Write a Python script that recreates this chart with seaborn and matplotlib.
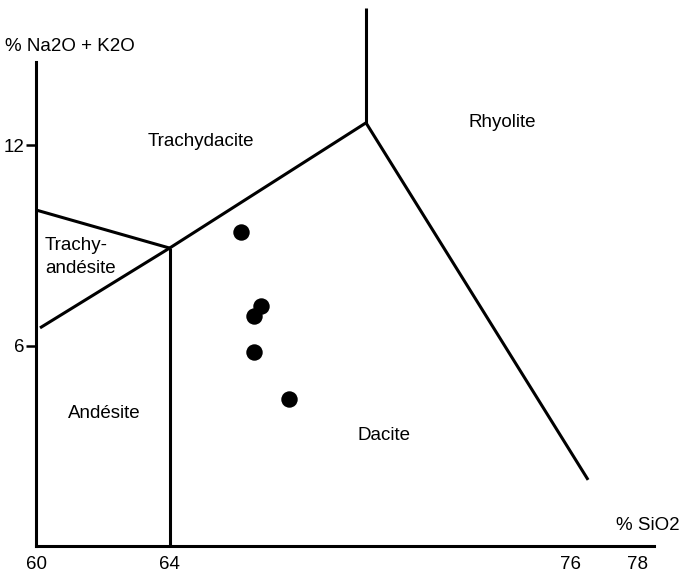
import matplotlib
matplotlib.use("Agg")
import matplotlib.pyplot as plt
import seaborn as sns
import pandas as pd

# ---- data ----
sample_sio2 = [66.13, 66.73, 66.54, 66.54, 67.58]
sample_alk = [9.39, 7.19, 6.90, 5.80, 4.40]

# boundary lines (SiO2, Na2O+K2O)
b_trachyandesite_top_x = [60.0, 64.0]
b_trachyandesite_top_y = [10.06, 8.92]
b_diagonal_x = [60.12, 64.0, 69.88]
b_diagonal_y = [6.53, 8.92, 12.67]
b_andesite_dacite_x = [64.0, 64.0]
b_andesite_dacite_y = [8.92, 0.0]
b_rhyo_top_x = [69.88, 69.88]
b_rhyo_top_y = [12.67, 16.1]
b_rhyo_dacite_x = [69.88, 76.53]
b_rhyo_dacite_y = [12.67, 1.98]

x_ticks = [60, 64, 76, 78]
y_ticks = [6, 12]

field_names = ["Trachydacite", "Rhyolite", "Trachy-\nandésite", "Andésite", "Dacite"]
field_x = [64.94, 73.95, 60.27, 62.04, 70.42]
field_y = [12.10, 12.69, 8.66, 3.98, 3.32]

sns.set_theme(style="white")
plt.rcParams["font.family"] = ["Liberation Sans", "DejaVu Sans"]
plt.rcParams["text.color"] = "black"

fig = plt.figure(figsize=(6.88, 5.75), dpi=100)
ax = fig.add_axes([0, 0, 1, 1])
ax.set_xlim(58.922, 79.521)
ax.set_ylim(-0.868, 16.347)

lw = 2.2
for xs, ys in [(b_trachyandesite_top_x, b_trachyandesite_top_y),
               (b_diagonal_x, b_diagonal_y),
               (b_andesite_dacite_x, b_andesite_dacite_y),
               (b_rhyo_top_x, b_rhyo_top_y),
               (b_rhyo_dacite_x, b_rhyo_dacite_y)]:
    ax.plot(xs, ys, color="black", lw=lw, solid_capstyle="butt")

df = pd.DataFrame({"SiO2": sample_sio2, "alk": sample_alk})
sns.scatterplot(data=df, x="SiO2", y="alk", ax=ax, color="black", s=140,
                edgecolor="black", linewidth=0, zorder=5)

fs = 13.5
for name, fx, fy in zip(field_names, field_x, field_y):
    ha = "left" if name.startswith("Trachy-") else "center"
    ax.text(fx, fy, name, ha=ha, va="center", fontsize=fs, color="black",
            linespacing=1.5)

# axes
for s in ["top", "right"]:
    ax.spines[s].set_visible(False)
ax.spines["left"].set_position(("data", 60))
ax.spines["bottom"].set_position(("data", 0))
ax.spines["left"].set_bounds(0, 14.5)
ax.spines["bottom"].set_bounds(60, 78.5)
for s in ["left", "bottom"]:
    ax.spines[s].set_linewidth(lw)
    ax.spines[s].set_color("black")

ax.set_xticks(x_ticks)
ax.set_xticklabels([str(v) for v in x_ticks])
ax.set_yticks(y_ticks)
ax.set_yticklabels([str(v) for v in y_ticks])
ax.tick_params(axis="x", length=0, pad=7, labelsize=fs, colors="black")
ax.tick_params(axis="y", length=7, width=1.8, pad=1, labelsize=fs,
               colors="black", left=True)
ax.set_xlabel("")
ax.set_ylabel("")

ax.text(61.0, 14.94, "% Na2O + K2O", ha="center", va="center", fontsize=fs,
        color="black")
ax.text(78.32, 0.6, "% SiO2", ha="center", va="center", fontsize=fs,
        color="black")

fig.savefig("out.png", dpi=100)
